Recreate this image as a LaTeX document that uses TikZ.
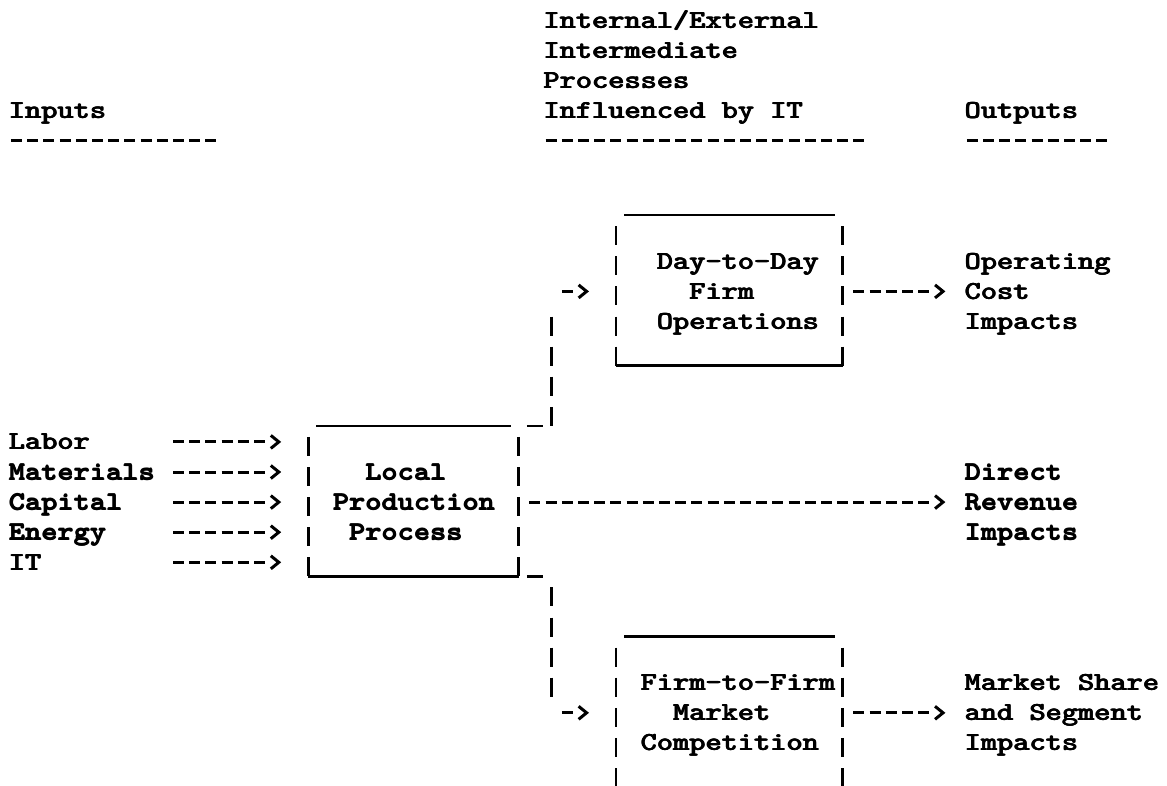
\documentclass[tikz,border=0pt]{standalone}
\usepackage{graphicx}
\usetikzlibrary{arrows.meta,fit}
\ExplSyntaxOn
\cs_new:Npn \dashrep #1 { \prg_replicate:nn {#1} {on~11pt~off~5.2pt~} }
\ExplSyntaxOff
% typewriter text, widened to the 16.2pt pitch and slightly emboldened
\newcommand{\tw}[1]{\scalebox{1.187}[1]{\rlap{\kern0.75pt#1}\rlap{\raisebox{0.3pt}{\kern0.35pt#1}}#1}}
\tikzset{
  lbl/.style={anchor=base west, inner sep=0pt, outer sep=0pt,
    font=\fontsize{26}{26}\selectfont\ttfamily\bfseries},
  uline/.style={line width=3pt, dash pattern=on 11pt off 5.2pt},
  conn/.style={line width=3pt, -{Straight Barb[length=8pt,width=13pt]},
    dash pattern/.expanded={\dashrep{#1} on 11pt off 40pt}},
  side/.style={line width=2.7pt, dash pattern=on 19pt off 11.1pt},
  rule/.style={line width=2.6pt},
  boxnode/.style={inner sep=0pt, outer sep=0pt},
}
\begin{document}
\begin{tikzpicture}[x=16.2pt,y=-30.1pt]
\path[use as bounding box] (-8.5pt,28.5pt) rectangle (1158.5pt,-756.5pt);

% ---------- headers ----------
\node[lbl] (hinternal) at (33,0) {\tw{Internal/External}};
\node[lbl] (hinterm)   at (33,1) {\tw{Intermediate}};
\node[lbl] (hproc)     at (33,2) {\tw{Processes}};
\node[lbl] (hinfl)     at (33,3) {\tw{Influenced by IT}};
\node[lbl] (hinputs)   at (0,3)  {\tw{Inputs}};
\node[lbl] (houtputs)  at (59,3) {\tw{Outputs}};
\draw[uline] ([xshift=2.5pt,yshift=8pt]0,4)  -- ([xshift=-2.6pt,yshift=8pt]13,4);
\draw[uline] ([xshift=2.5pt,yshift=8pt]33,4) -- ([xshift=-2.6pt,yshift=8pt]53,4);
\draw[uline] ([xshift=2.5pt,yshift=8pt]59,4) -- ([xshift=-2.6pt,yshift=8pt]68,4);

% ---------- boxes ----------
\coordinate (dbtl) at ([yshift=-6pt]37.5,6);
\coordinate (dbbr) at ([yshift=-6pt]51.5,11);
\node[boxnode, fit=(dbtl)(dbbr)] (daybox) {};
\coordinate (pbtl) at ([yshift=-6pt]18.5,13);
\coordinate (pbbr) at ([yshift=-6pt]31.5,18);
\node[boxnode, fit=(pbtl)(pbbr)] (prodbox) {};
\coordinate (fbtl) at ([yshift=-6pt]37.5,20);
\coordinate (fbbr) at ([yshift=-6pt]51.5,25);
\node[boxnode, fit=(fbtl)(fbbr)] (firmbox) {};

\foreach \b in {daybox,prodbox,firmbox}{
  \draw[rule] ([xshift=8.1pt]\b.north west) -- ([xshift=-8.1pt]\b.north east);
  \draw[side] ([yshift=-11.1pt]\b.north west) -- (\b.south west);
  \draw[side] ([yshift=-11.1pt]\b.north east) -- (\b.south east);
  \draw[rule] (\b.south west) -- (\b.south east);
}

% ---------- box texts ----------
\node[lbl] (daytoday)    at (40,8)  {\tw{Day-to-Day}};
\node[lbl] (firm)        at (42,9)  {\tw{Firm}};
\node[lbl] (operations)  at (40,10) {\tw{Operations}};
\node[lbl] (local)       at (22,15) {\tw{Local}};
\node[lbl] (production)  at (20,16) {\tw{Production}};
\node[lbl] (process)     at (21,17) {\tw{Process}};
\node[lbl] (firmtofirm)  at (39,22) {\tw{Firm-to-Firm}};
\node[lbl] (market)      at (41,23) {\tw{Market}};
\node[lbl] (competition) at (39,24) {\tw{Competition}};

% ---------- outputs ----------
\node[lbl] (operating) at (59,8)  {\tw{Operating}};
\node[lbl] (cost)      at (59,9)  {\tw{Cost}};
\node[lbl] (impacts1)  at (59,10) {\tw{Impacts}};
\node[lbl] (direct)    at (59,15) {\tw{Direct}};
\node[lbl] (revenue)   at (59,16) {\tw{Revenue}};
\node[lbl] (impacts2)  at (59,17) {\tw{Impacts}};
\node[lbl] (mshare)    at (59,22) {\tw{Market Share}};
\node[lbl] (segment)   at (59,23) {\tw{and Segment}};
\node[lbl] (impacts3)  at (59,24) {\tw{Impacts}};

% ---------- inputs ----------
\foreach \r/\nm/\txt in {14/labor/Labor,15/materials/Materials,16/capital/Capital,17/energy/Energy,18/it/IT}{
  \node[lbl] (\nm) at (0,\r) {\tw{\txt}};
  \coordinate (\nm-a) at ([xshift=2.5pt,yshift=8pt]10,\r);
  \draw[conn=5, shorten >=27pt] (\nm-a) -- (\nm-a -| prodbox.west);
}

% ---------- production -> revenue ----------
\coordinate (r16) at ([yshift=8pt]0,16);
\draw[conn=24, shorten <=10.6pt, shorten >=18.9pt] (r16 -| prodbox.east) -- (r16 -| revenue.west);

% ---------- production -> day-to-day operations ----------
\draw[rule] ([xshift=8.1pt]prodbox.north east) -- ([xshift=24.3pt]prodbox.north east);
\coordinate (dvtop) at ([yshift=13pt]33.5,10);
\coordinate (dvbot) at ([yshift=-6pt]33.5,13);
\draw[side] (dvtop) -- (dvbot);
\coordinate (dayin) at ([xshift=2.5pt,yshift=8pt]34,9);
\draw[conn=0, shorten >=27pt] (dayin) -- (dayin -| daybox.west);
\coordinate (r9) at ([yshift=8pt]0,9);
\draw[conn=4, shorten <=10.6pt, shorten >=18.9pt] (r9 -| daybox.east) -- (r9 -| cost.west);

% ---------- production -> firm-to-firm competition ----------
\draw[rule] ([xshift=8.1pt]prodbox.south east) -- ([xshift=24.3pt]prodbox.south east);
\coordinate (fvtop) at ([yshift=13pt]33.5,19);
\coordinate (fvbot) at ([yshift=-6pt]33.5,22);
\draw[side] (fvtop) -- (fvbot);
\coordinate (firmin) at ([xshift=2.5pt,yshift=8pt]34,23);
\draw[conn=0, shorten >=27pt] (firmin) -- (firmin -| firmbox.west);
\coordinate (r23) at ([yshift=8pt]0,23);
\draw[conn=4, shorten <=10.6pt, shorten >=18.9pt] (r23 -| firmbox.east) -- (r23 -| segment.west);
\end{tikzpicture}
\end{document}
